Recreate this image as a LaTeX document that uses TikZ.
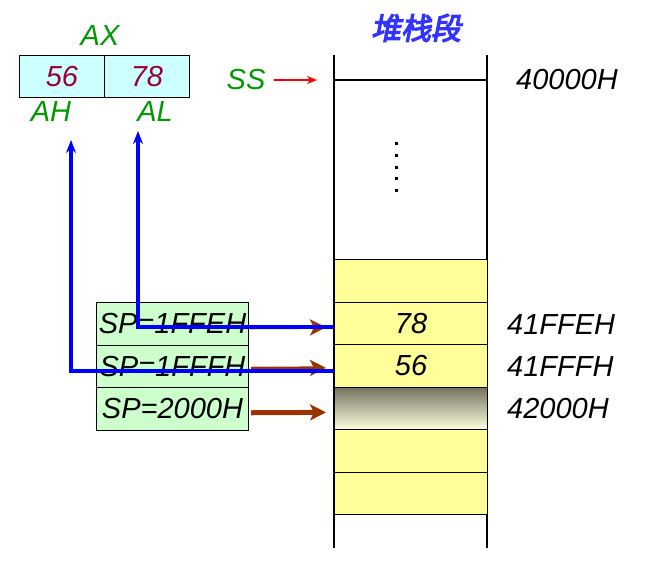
\documentclass[tikz,border=0pt]{standalone}
\usepackage{fontspec}
\setmainfont{Liberation Sans}
\newfontfamily\cjk[FakeSlant=0.2,FakeBold=4]{Noto Sans CJK SC}
\usetikzlibrary{arrows.meta}
\definecolor{cellyellow}{HTML}{FFFF99}
\definecolor{spgreen}{HTML}{CCFFCC}
\definecolor{regcyan}{HTML}{CCFFFF}
\definecolor{lblgreen}{HTML}{009900}
\definecolor{numred}{HTML}{990033}
\definecolor{arrowbrown}{HTML}{993300}
\definecolor{titleblue}{HTML}{3333FF}
\definecolor{shadetop}{HTML}{747260}
\definecolor{shadebot}{HTML}{FFFFE0}
\tikzset{
  txt/.style={font=\fontsize{29}{34}\selectfont\itshape, inner sep=0pt},
  cell/.style={draw, line width=1.2pt, fill=cellyellow, minimum width=153pt,
    minimum height=42.5pt, anchor=north west, inner sep=0pt, txt},
  spbox/.style={draw, line width=1pt, fill=spgreen, minimum width=152pt,
    minimum height=42.5pt, anchor=north west, inner sep=0pt, txt},
  regbox/.style={draw, line width=1pt, fill=regcyan, minimum width=85pt,
    minimum height=42pt, anchor=north west, inner sep=0pt, txt, text=numred},
  lbl/.style={txt, text=lblgreen},
  blueline/.style={draw=blue, line width=4pt, -{Stealth[length=13pt,width=10pt]}},
  spline/.style={draw=arrowbrown, line width=3pt, -{Stealth[length=16pt,width=16pt,inset=4pt]}},
}
\begin{document}
\begin{tikzpicture}[x=1pt,y=-1pt]
  \useasboundingbox (0,0) rectangle (668,579);
  % title and stack borders
  \node[txt, font=\fontsize{30}{34}\selectfont\cjk, text=titleblue] (title) at (416,28) {堆栈段};
  \draw[line width=1.2pt] (334,55) -- (334,548);
  \draw[line width=1.2pt] (487,55) -- (487,548);
  \coordinate (ssline) at (334,80);
  \draw[line width=1.2pt] (ssline) -- (487,80);
  \draw[line width=3pt, dash pattern=on 3pt off 8.75pt] (396,142) -- (396,192);
  % stack cells
  \node[cell] (c1) at (334,259) {};
  \node[cell] (c2) at (334,301.5) {78};
  \node[cell] (c3) at (334,344) {56};
  \node[cell, top color=shadetop, bottom color=shadebot] (c4) at (334,386.5) {};
  \node[cell] (c5) at (334,429) {};
  \node[cell] (c6) at (334,471.5) {};
  % addresses
  \node[txt, anchor=west] (a0) at (516,80) {40000H};
  \node[txt, anchor=west] (a1) at (507,325) {41FFEH};
  \node[txt, anchor=west] (a2) at (507,367) {41FFFH};
  \node[txt, anchor=west] (a3) at (507,409) {42000H};
  % AX register
  \node[regbox] (ah) at (19,55) {56};
  \node[regbox] (al) at (104,55) {78};
  \node[lbl] (ax) at (100,36) {AX};
  \node[lbl] (ahl) at (51,112) {AH};
  \node[lbl] (all) at (155,112) {AL};
  \node[lbl] (ss) at (246,80) {SS};
  \draw[red, line width=2pt, -{Stealth[length=10pt,width=8pt]}] ([xshift=8pt]ss.east) -- ([xshift=-17pt]ssline);
  % SP values
  \node[spbox] (sp1) at (96,302) {SP=1FFEH};
  \node[spbox] (sp2) at (96,344.5) {SP=1FFFH};
  \node[spbox] (sp3) at (96,387) {SP=2000H};
  \draw[spline] ([xshift=2pt,yshift=-4pt]sp1.east) -- ([xshift=-8pt,yshift=-4pt]c2.west);
  \draw[spline] ([xshift=2pt,yshift=-2pt]sp2.east) -- ([xshift=-8pt,yshift=-2pt]c3.west);
  \draw[spline, line width=5pt] ([xshift=2pt,yshift=-4pt]sp3.east) -- ([xshift=-8pt,yshift=-4pt]c4.west);
  % pop into AL / AH
  \coordinate (altip) at (138,131);
  \coordinate (ahtip) at (71,140);
  \draw[blueline] ([yshift=-4pt]c2.west) -| (altip);
  \draw[blueline] ([yshift=-5pt]c3.west) -| (ahtip);
\end{tikzpicture}
\end{document}
